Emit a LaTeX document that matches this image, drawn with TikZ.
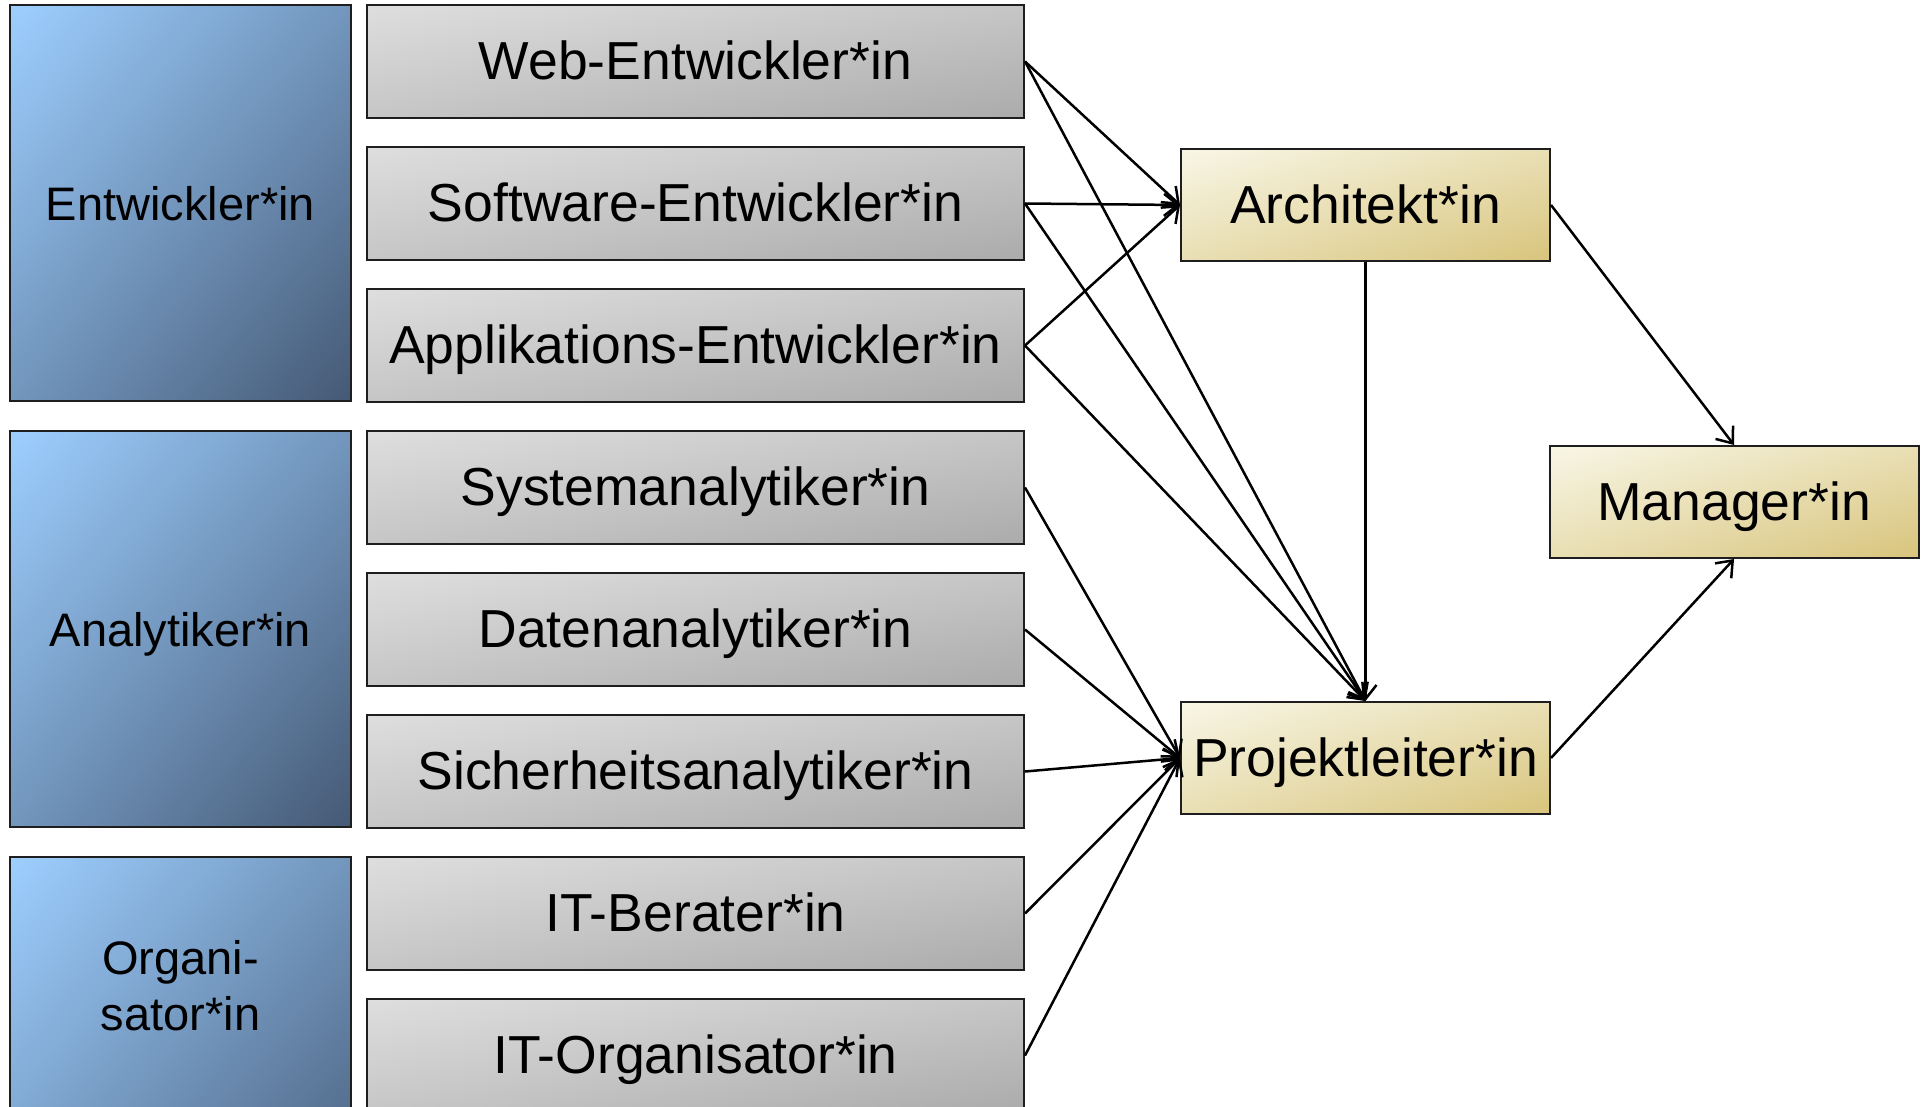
\documentclass[tikz,border=0pt]{standalone}
\usepackage{fontspec}
\setmainfont{Liberation Sans}
\usetikzlibrary{arrows.meta,shadings}
\definecolor{bluetl}{HTML}{9ECFFF}
\definecolor{bluemid}{HTML}{7296BD}
\definecolor{bluebr}{HTML}{455975}
\definecolor{graytl}{HTML}{DEDEDE}
\definecolor{graymid}{HTML}{C6C6C6}
\definecolor{graybr}{HTML}{ABABAB}
\definecolor{goldtl}{HTML}{F8F6E6}
\definecolor{goldmid}{HTML}{E9DFB4}
\definecolor{goldbr}{HTML}{D8C47C}
\definecolor{edgecol}{HTML}{1E1E1E}
\tikzset{
  basebox/.style={draw=edgecol, line width=2pt, inner sep=0pt,
    font=\fontsize{47}{56}\selectfont, align=center},
  bigtext/.style={font=\fontsize{53.5}{62}\selectfont, text height=43pt, text depth=6.5pt},
  bluebox/.style={basebox, text height=40pt, text depth=5pt, minimum width=341pt, minimum height=396pt,
    upper left=bluetl, upper right=bluemid, lower left=bluemid, lower right=bluebr},
  graybox/.style={basebox, bigtext, minimum width=657pt, minimum height=113pt,
    upper left=graytl, upper right=graymid, lower left=graymid, lower right=graybr},
  goldbox/.style={basebox, bigtext, minimum width=369pt, minimum height=112pt,
    upper left=goldtl, upper right=goldmid, lower left=goldmid, lower right=goldbr},
  conn/.style={line width=2.5pt, draw=black, -{Straight Barb[length=14pt,width=22pt,line width=2.5pt]}},
  labeltext/.style={font=\fontsize{47}{56}\selectfont, align=center, inner sep=0pt}
}
\begin{document}
\begin{tikzpicture}[x=1pt,y=-1pt]
\useasboundingbox (0,0) rectangle (1927,1107);
\clip (0,0) rectangle (1927,1107);
% group boxes
\node[bluebox] (entw) at (180.5,203) {Entwickler*in};
\node[bluebox] (anal) at (180.5,629) {Analytiker*in};
\node[bluebox] (orgb) at (180.5,1055) {};
\node[labeltext] (orgt) at (180.5,986) {Organi-\\sator*in};
% role boxes
\node[graybox] (web)  at (695.5,61.5)  {Web-Entwickler*in};
\node[graybox] (soft) at (695.5,203.5) {Software-Entwickler*in};
\node[graybox] (app)  at (695.5,345.5) {Applikations-Entwickler*in};
\node[graybox] (sys)  at (695.5,487.5) {Systemanalytiker*in};
\node[graybox] (dat)  at (695.5,629.5) {Datenanalytiker*in};
\node[graybox] (sich) at (695.5,771.5) {Sicherheitsanalytiker*in};
\node[graybox] (itb)  at (695.5,913.5) {IT-Berater*in};
\node[graybox] (ito)  at (695.5,1055.5) {IT-Organisator*in};
% targets
\node[goldbox] (arch) at (1365.5,205) {Architekt*in};
\node[goldbox] (man)  at (1734,502) {Manager*in};
\node[goldbox] (proj) at (1365.5,758) {Projektleiter*in};
% connectors
\draw[conn] (web.east) -- (arch.west);
\draw[conn] (soft.east) -- (arch.west);
\draw[conn] (app.east) -- (arch.west);
\draw[conn] (web.east) -- (proj.north);
\draw[conn] (soft.east) -- (proj.north);
\draw[conn] (app.east) -- (proj.north);
\draw[conn] (arch.south) -- (proj.north);
\draw[conn] (sys.east) -- (proj.west);
\draw[conn] (dat.east) -- (proj.west);
\draw[conn] (sich.east) -- (proj.west);
\draw[conn] (itb.east) -- (proj.west);
\draw[conn] (ito.east) -- (proj.west);
\draw[conn] (arch.east) -- (man.north);
\draw[conn] (proj.east) -- (man.south);
\end{tikzpicture}
\end{document}
